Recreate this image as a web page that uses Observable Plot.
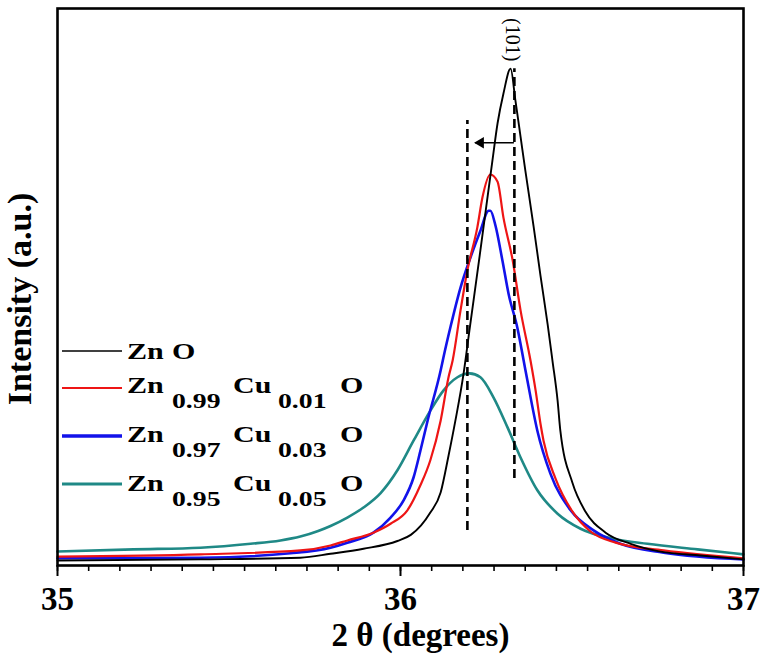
<!DOCTYPE html>
<html><head><meta charset="utf-8">
<script src="https://cdn.jsdelivr.net/npm/d3@7"></script>
<script src="https://cdn.jsdelivr.net/npm/@observablehq/plot@0.6"></script>
<style>body{margin:0;background:#fff;} svg{display:block;}</style>
</head><body><div id="chart"></div>
<script>
const SERIF = "'Liberation Serif','Times New Roman',Times,serif";

// ---- data (2θ in degrees, intensity in a.u.) ----
const znoX = [35.000,35.417,35.708,35.796,35.892,35.991,36.030,36.060,36.087,36.117,36.140,36.160,36.184,36.201,36.233,36.268,36.283,36.300,36.321,36.335,36.350,36.364,36.388,36.408,36.429,36.443,36.458,36.466,36.501,36.539,36.598,36.671,36.758,36.875,37.000];
const znoY = [0.9,1.1,1.4,2.1,3.0,4.4,5.5,7.2,9.5,13.1,19.7,26.0,34.5,42.2,56.6,72.7,79.4,84.7,89.2,83.5,77.0,70.9,60.9,52.1,43.3,36.8,29.6,24.2,14.9,9.7,5.9,3.9,2.5,1.8,1.1];

const cu01X = [35.000,35.417,35.708,35.796,35.845,35.921,35.971,36.020,36.058,36.087,36.117,36.140,36.152,36.175,36.195,36.224,36.239,36.262,36.283,36.300,36.327,36.350,36.379,36.394,36.408,36.417,36.452,36.501,36.554,36.627,36.767,37.000];
const cu01Y = [1.6,2.0,2.7,3.6,4.5,5.9,7.5,9.9,14.4,18.9,26.0,33.8,36.8,45.8,53.0,60.7,66.1,70.2,68.9,62.5,54.8,45.8,36.8,31.4,25.5,22.4,15.6,9.7,6.1,4.1,2.7,1.3];

const cu03X = [35.000,35.417,35.679,35.796,35.845,35.921,35.971,36.009,36.038,36.058,36.079,36.117,36.125,36.146,36.175,36.204,36.233,36.257,36.262,36.277,36.297,36.315,36.341,36.359,36.370,36.399,36.437,36.496,36.563,36.641,36.767,37.000];
const cu03Y = [1.3,1.4,2.2,3.2,4.1,5.9,8.6,11.7,15.8,20.6,26.0,35.0,37.3,42.9,49.9,55.3,60.1,63.7,63.7,61.0,54.8,48.8,42.6,36.8,33.2,24.2,16.5,9.9,6.3,3.9,2.3,1.1];

const cu05X = [35.000,35.222,35.417,35.563,35.650,35.708,35.760,35.796,35.845,35.892,35.942,35.991,36.038,36.087,36.125,36.166,36.201,36.233,36.271,36.312,36.350,36.399,36.458,36.525,36.621,36.720,36.866,37.000];
const cu05Y = [2.5,2.9,3.2,3.9,4.5,5.2,6.2,7.1,8.6,10.4,13.0,17.1,22.4,27.8,31.4,33.8,34.5,33.8,30.2,24.8,19.4,13.5,9.3,6.6,4.8,3.9,2.9,2.0];

const seriesKeys = ["ZnO","Zn0.99Cu0.01O","Zn0.97Cu0.03O","Zn0.95Cu0.05O"];
const seriesColors = ["#000000","#ee1515","#1212ea","#1f8986"];
const seriesWidths = [1.9,2.2,2.6,2.6];
const seriesXs = [znoX, cu01X, cu03X, cu05X];
const seriesYs = [znoY, cu01Y, cu03Y, cu05Y];

// reference (dashed) lines and shift arrow
const refX = [36.195, 36.332];
const refY1 = [6.3, 15.6];
const refY2 = [79.9, 89.2];
const arrowFromX = [36.332], arrowToX = [36.219], arrowY = [75.9];
const peakLabel = ["(101)"], peakLabelX = [36.327], peakLabelY = [94.4];

// axis ticks
const majorTicks = [35, 36, 37];
const minorTicks = d3.range(0, 23).map(k => 35 + k / 11);

// legend text pieces
const legendParts = [
  [["Zn",0],["O",0]],
  [["Zn",0],["0.99",1],["Cu",0],["0.01",1],["O",0]],
  [["Zn",0],["0.97",1],["Cu",0],["0.03",1],["O",0]],
  [["Zn",0],["0.95",1],["Cu",0],["0.05",1],["O",0]]
];

// ---- build ----
const lineMarks = seriesKeys.map((k, i) =>
  Plot.line(seriesXs[i].map((x, j) => ({x, y: seriesYs[i][j]})), {
    x: "x", y: "y", stroke: seriesColors[i], strokeWidth: seriesWidths[i], curve: "monotone-x"
  })
);
const refData = refX.map((x, i) => ({x, y1: refY1[i], y2: refY2[i]}));
const arrowData = arrowFromX.map((x, i) => ({x1: x, x2: arrowToX[i], y: arrowY[i]}));
const labelData = peakLabel.map((t, i) => ({t, x: peakLabelX[i], y: peakLabelY[i]}));

const chart = Plot.plot({
  width: 762, height: 664,
  marginLeft: 57, marginRight: 19, marginTop: 8, marginBottom: 99,
  style: {background: "#fff", color: "#000", fontFamily: SERIF},
  x: {domain: [35, 37]},
  y: {domain: [0, 100], axis: null},
  marks: [
    ...lineMarks.slice().reverse(),
    Plot.ruleX(refData, {x: "x", y1: "y1", y2: "y2", stroke: "#000", strokeWidth: 2.6, strokeDasharray: "9,5"}),
    Plot.ruleY(arrowData, {x1: "x1", x2: "x2", y: "y", stroke: "#000", strokeWidth: 1.6}),
    Plot.dot(arrowData, {x: "x2", y: "y", symbol: "triangle", r: 4.2, rotate: -90, dx: 5, fill: "#000", stroke: "none"}),
    Plot.text(labelData, {x: "x", y: "y", text: "t", rotate: 90, fontSize: 20, fontFamily: SERIF, fill: "#000"}),
    Plot.axisX(minorTicks, {tickSize: 6, strokeWidth: 1.6, tickFormat: () => ""}),
    Plot.axisX(majorTicks, {tickSize: 11, strokeWidth: 2, tickPadding: 10, fontSize: 33, fontWeight: "bold", fontFamily: SERIF, tickFormat: d => String(d), label: null}),
    Plot.text(["2 θ (degrees)"], {frameAnchor: "bottom", textAnchor: "middle", dx: 20, dy: 70, lineAnchor: "middle", fontSize: 33, fontWeight: "bold", fontFamily: SERIF, fill: "#000"}),
    Plot.text(["Intensity (a.u.)"], {frameAnchor: "left", textAnchor: "middle", dx: -37, dy: 12, rotate: -90, fontSize: 34, fontWeight: "bold", fontFamily: SERIF, fill: "#000"}),
    Plot.frame({stroke: "#000", strokeWidth: 2.6})
  ]
});
document.getElementById("chart").appendChild(chart);

// ---- legend inside the frame ----
const lineYs = [351, 388, 436, 484];
const baseYs = [359, 393, 442, 491];
const legendLineWidths = [1.6, 2.2, 3.6, 3.2];
const pieceX = [[127, 172], [127, 172, 233, 278, 340], [127, 172, 233, 278, 340], [127, 172, 233, 278, 340]];
const svg = d3.select(chart);
const leg = svg.append("g").attr("font-family", SERIF).attr("font-weight", "bold").attr("fill", "#000").attr("text-anchor", "start");
legendParts.forEach((parts, i) => {
  leg.append("line").attr("x1", 62).attr("x2", 122).attr("y1", lineYs[i]).attr("y2", lineYs[i])
    .attr("stroke", seriesColors[i]).attr("stroke-width", legendLineWidths[i]);
  parts.forEach(([t, sub], j) => {
    leg.append("text")
      .attr("text-anchor", "start")
      .attr("transform", `translate(${pieceX[i][j]},${baseYs[i] + (sub ? 15 : 0)}) scale(${sub ? 1.32 : 1.25},1)`)
      .attr("font-size", sub ? 21 : 24)
      .text(t);
  });
});
</script>
</body></html>
